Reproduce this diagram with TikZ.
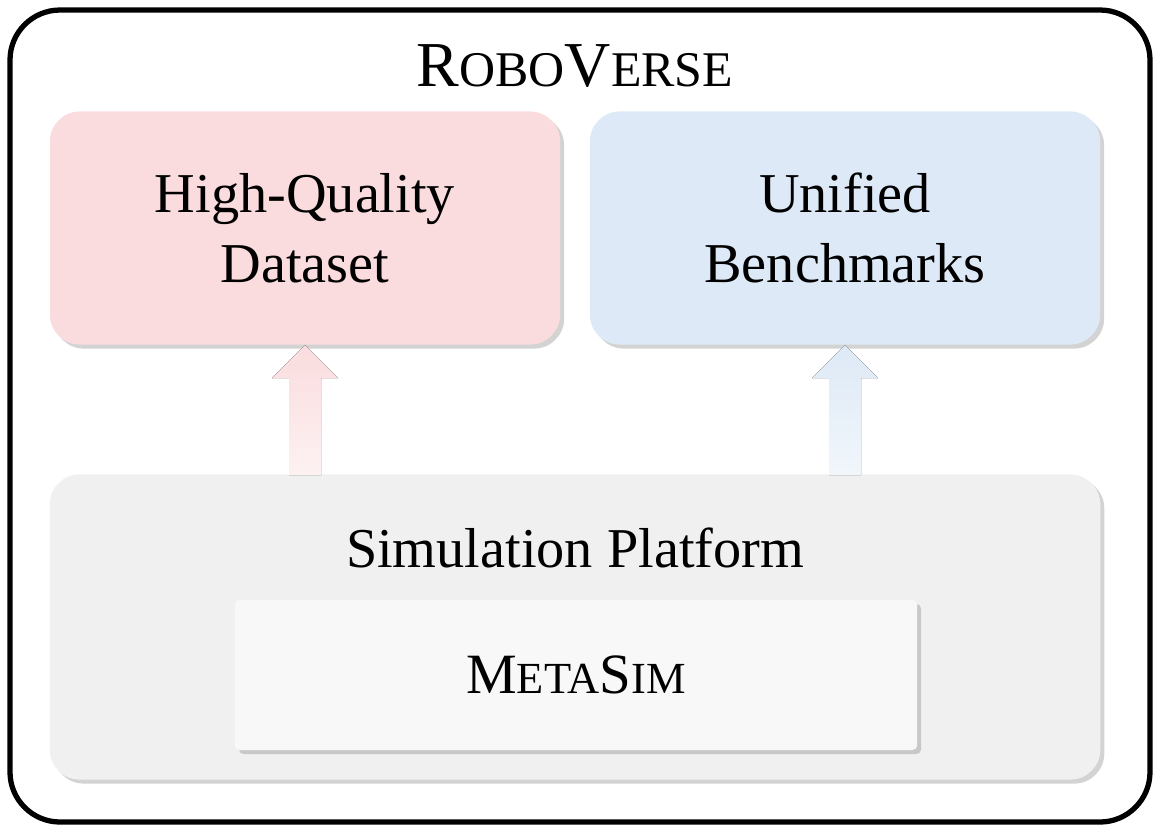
\documentclass[tikz,border=0pt]{standalone}
\usepackage{fontspec}
\setmainfont{Liberation Serif}
\usetikzlibrary{shadows}
\definecolor{pinkbox}{HTML}{FADCDE}
\definecolor{bluebox}{HTML}{DDE9F6}
\definecolor{graybox}{HTML}{F0F0F0}
\definecolor{metabox}{HTML}{F8F8F8}
\newcommand{\fakesc}[2]{#1{\fontsize{0.78\fontdimen6\font}{1}\selectfont #2}}
\tikzset{
 panel/.style={rounded corners=0.3cm, draw=none, drop shadow={opacity=0.35, shadow xshift=0.04cm, shadow yshift=-0.04cm}, align=center, font=\fontsize{16}{20}\selectfont}
}
\begin{document}
\begin{tikzpicture}[x=0.01cm,y=-0.01cm]
 \useasboundingbox (0,0) rectangle (1163,838);
 \draw[line width=1.5pt, rounded corners=0.5cm] (10,10) rectangle (1150,822);
 \node[font=\fontsize{18.2}{22}\selectfont] (title) at (575,66) {\fakesc{R}{OBO}\fakesc{V}{ERSE}};

 \node[panel, fill=pinkbox, minimum width=5.1cm, minimum height=2.33cm] (dataset) at (305,228) {High-Quality\\Dataset};
 \node[panel, fill=bluebox, minimum width=5.1cm, minimum height=2.33cm] (bench) at (845,228) {Unified\\Benchmarks};

 \node[panel, fill=graybox, minimum width=10.5cm, minimum height=3.05cm] (sim) at (575,627) {};
 \node[font=\fontsize{16}{20}\selectfont] (simlabel) at (575,548) {Simulation Platform};
 \node[panel, fill=metabox, rounded corners=0.05cm, minimum width=6.82cm, minimum height=1.5cm, font=\fontsize{16.2}{19}\selectfont] (meta) at (576,675) {\fakesc{M}{ETA}\fakesc{S}{IM}};

 % arrows from platform to the two panels
 \foreach \ax/\col in {305/pinkbox, 845/bluebox}
  \fill[top color=\col, bottom color=\col!40!white]
   (\ax-16,475) -- (\ax-16,378) -- (\ax-33,378) -- (\ax,345) -- (\ax+33,378) -- (\ax+16,378) -- (\ax+16,475) -- cycle;
\end{tikzpicture}
\end{document}
